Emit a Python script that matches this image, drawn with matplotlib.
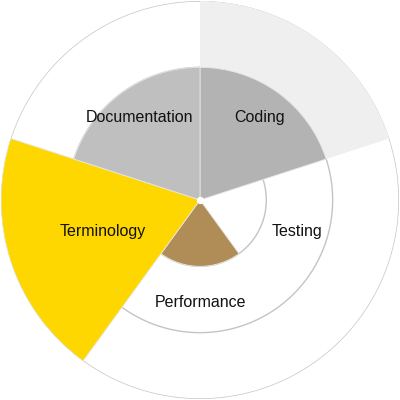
import numpy as np
import matplotlib
matplotlib.use('Agg')
import matplotlib.pyplot as plt

# polar area chart, five skills
categories = ['Coding', 'Testing', 'Performance', 'Terminology', 'Documentation']
values = [2, 0, 1, 3, 2]
colors = ['#b3b3b3', '#ffffff', '#b08d57', '#ffd700', '#bfbfbf']
highlight = [3, 0, 0, 0, 0]   # light background band behind Coding
rmax = 3

fig = plt.figure(figsize=(4, 4), dpi=100)
ax = fig.add_axes([0.0025, 0.0025, 0.995, 0.995], projection='polar')
ax.set_theta_zero_location('N')
ax.set_theta_direction(-1)

n = len(categories)
width = 2 * np.pi / n
theta = np.arange(n) * width + width / 2

# grid rings underneath
t = np.linspace(0, 2 * np.pi, 400)
for r in [1, 2, 3]:
    ax.plot(t, np.full_like(t, r), color='#c4c4c4', lw=1, zorder=0)

ax.bar(theta, highlight, width=width, color='#efefef', edgecolor='none', zorder=1)
ax.bar(theta, values, width=width, color=colors, edgecolor='#e6e6e6', lw=0.6, zorder=2)

for th, name in zip(theta, categories):
    ax.text(th, 1.54, name, ha='center', va='center', fontsize=11.5,
            family='Liberation Sans', color='#111111', zorder=4)

ax.scatter([0], [0], s=18, color='white', zorder=5)

ax.set_ylim(0, rmax)
ax.set_xticks([])
ax.set_yticks([])
ax.grid(False)
ax.spines['polar'].set_visible(False)
ax.set_facecolor('none')

fig.savefig('out.png', dpi=100)
